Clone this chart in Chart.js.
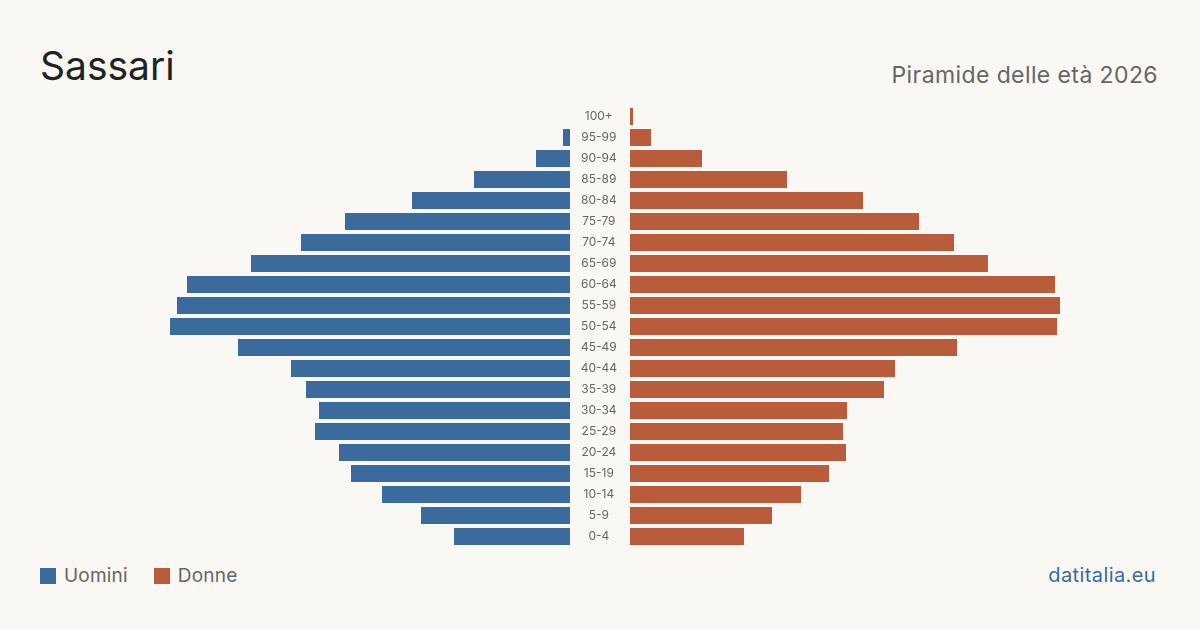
<!DOCTYPE html>
<html>
<head>
<meta charset="utf-8">
<script src="https://cdn.jsdelivr.net/npm/chart.js@4/dist/chart.umd.min.js"></script>
<style>
  html, body { margin: 0; padding: 0; }
  body { width: 1200px; height: 630px; background: #f9f8f4; position: relative; overflow: hidden; font-family: Inter, "Noto Sans", sans-serif; }
  #title { position: absolute; left: 40px; top: 46px; font-size: 39px; color: #222; line-height: 1; letter-spacing: 0px; }
  #subtitle { position: absolute; right: 42px; top: 64px; font-size: 23px; color: #666; line-height: 1; letter-spacing: 0.4px; }
  #legend { position: absolute; left: 40px; top: 566px; font-size: 19px; color: #666; display: flex; align-items: center; line-height: 20px; letter-spacing: 0.2px; }
  .sw { display: inline-block; width: 16px; height: 16px; margin-right: 8px; }
  .item { display: flex; align-items: center; margin-right: 26px; }
  #source { position: absolute; right: 44px; top: 565px; font-size: 20px; color: #3a6a9e; line-height: 20px; letter-spacing: 0.4px; }
  canvas { position: absolute; }
</style>
</head>
<body>
<div id="title">Sassari</div>
<div id="subtitle">Piramide delle età 2026</div>
<canvas id="left" width="440" height="441" style="left:130px; top:106px; width:440px; height:441px;"></canvas>
<canvas id="right" width="500" height="441" style="left:570px; top:106px; width:500px; height:441px;"></canvas>
<div id="legend">
  <span class="item"><span class="sw" style="background:#3b6b9c"></span>Uomini</span>
  <span class="item"><span class="sw" style="background:#b95c3c"></span>Donne</span>
</div>
<div id="source">datitalia.eu</div>
<script>
const ageGroups = ['100+','95-99','90-94','85-89','80-84','75-79','70-74','65-69','60-64','55-59','50-54','45-49','40-44','35-39','30-34','25-29','20-24','15-19','10-14','5-9','0-4'];
const uomini = [0,70,340,960,1580,2250,2690,3190,3830,3930,4000,3320,2790,2640,2510,2550,2310,2190,1880,1490,1160];
const donne  = [30,210,720,1570,2330,2890,3240,3580,4250,4300,4270,3270,2650,2540,2170,2130,2160,1990,1710,1420,1140];
const maxValue = 4400;

const colorU = '#3b6b9c';
const colorD = '#b95c3c';

Chart.defaults.font.family = 'Inter, "Noto Sans", sans-serif';

const common = {
  indexAxis: 'y',
  responsive: false,
  animation: false,
  devicePixelRatio: 1,
  layout: { padding: 0 },
  plugins: { legend: { display: false }, tooltip: { enabled: false } }
};

new Chart(document.getElementById('left'), {
  type: 'bar',
  data: { labels: ageGroups, datasets: [{ label: 'Uomini', data: uomini, backgroundColor: colorU, borderWidth: 0, categoryPercentage: 1, barPercentage: 0.81 }] },
  options: Object.assign({}, common, {
    scales: {
      x: { display: false, reverse: true, min: 0, max: maxValue },
      y: { display: false }
    }
  })
});

new Chart(document.getElementById('right'), {
  type: 'bar',
  data: { labels: ageGroups, datasets: [{ label: 'Donne', data: donne, backgroundColor: colorD, borderWidth: 0, categoryPercentage: 1, barPercentage: 0.81 }] },
  options: Object.assign({}, common, {
    scales: {
      x: { display: false, min: 0, max: maxValue },
      y: {
        position: 'left',
        border: { display: false },
        grid: { display: false, drawTicks: false },
        ticks: { crossAlign: 'center', padding: 13, color: '#666', font: { size: 12 } },
        afterFit: (scale) => { scale.width = 60; scale.paddingTop = 0; scale.paddingBottom = 0; }
      }
    }
  })
});
</script>
</body>
</html>
